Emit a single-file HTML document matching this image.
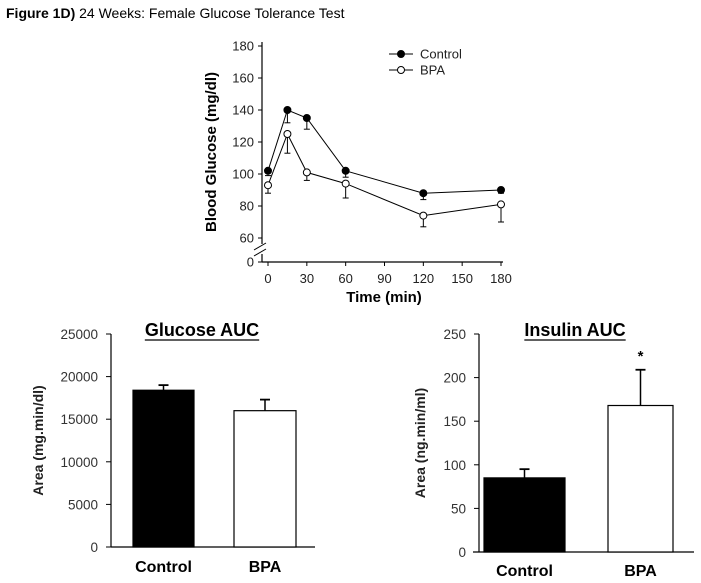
<!DOCTYPE html>
<html><head><meta charset="utf-8"><style>
body{margin:0;background:#fff;width:701px;height:583px;overflow:hidden;font-family:"Liberation Sans",Arial,sans-serif}
svg{position:absolute;left:0;top:0}
</style></head><body>
<svg id="s" width="701" height="583" viewBox="0 0 701 583" font-family="Liberation Sans, Arial, sans-serif">
<text x="6" y="18" font-size="14"><tspan font-weight="bold">Figure 1D)</tspan> 24 Weeks: Female Glucose Tolerance Test</text>
<g id="topChart"></g>
<g id="leftChart"></g>
<g id="rightChart"></g>
</svg>
<script>
const times=[0,15,30,60,120,180];
const controlVals=[102,140,135,102,88,90];
const controlLow=[99,132,128,98,84,88];
const bpaVals=[93,125,101,94,74,81];
const bpaLow=[88,113,96,85,67,70];
const yTicksTop=[60,80,100,120,140,160,180];
const xTicksTop=[0,30,60,90,120,150,180];
const aucGroups=["Control","BPA"];
const glucoseAUC=[18400,16000];
const glucoseErr=[600,1300];
const glucoseTicks=[0,5000,10000,15000,20000,25000];
const insulinAUC=[85,168];
const insulinErr=[10,41];
const insulinTicks=[0,50,100,150,200,250];

const NS="http://www.w3.org/2000/svg";
function el(p,t,a,txt){const e=document.createElementNS(NS,t);for(const k in a)e.setAttribute(k,a[k]);if(txt!=null)e.textContent=txt;p.appendChild(e);return e;}

// Top chart
const topG=document.getElementById('topChart');
const xT=t=>268+t*233/180;
const yT=v=>238-(v-60)*1.6;
const yAx=el(topG,'line',{x1:262,y1:42,x2:262,y2:262,stroke:'#000','stroke-width':1.2});

const xAx=el(topG,'line',{x1:262,y1:262,x2:503,y2:262,stroke:'#000','stroke-width':1.2});

el(topG,'rect',{x:255,y:244,width:14,height:10,fill:'#fff'});
el(topG,'line',{x1:254,y1:250,x2:266,y2:243,stroke:'#000'});
el(topG,'line',{x1:254,y1:256,x2:266,y2:249,stroke:'#000'});
yTicksTop.forEach(v=>{const y=yT(v);
 el(topG,'line',{x1:258,y1:y,x2:262,y2:y,stroke:'#000'});
 const t=el(topG,'text',{x:254,y:y+4.5,'font-size':13,'text-anchor':'end',fill:'#222'},v);
 
 });
el(topG,'line',{x1:258,y1:262,x2:262,y2:262,stroke:'#000'});
el(topG,'text',{x:254,y:266.5,'font-size':13,'text-anchor':'end',fill:'#222'},'0');
xTicksTop.forEach(v=>{const x=xT(v);
 el(topG,'line',{x1:x,y1:262,x2:x,y2:266,stroke:'#000'});
 const t=el(topG,'text',{x:x,y:283,'font-size':13,'text-anchor':'middle',fill:'#222'},v);
 
 });
const xt=el(topG,'text',{x:384,y:302,'font-size':15,'font-weight':'bold','text-anchor':'middle'},'Time (min)');


const yt=el(topG,'text',{x:0,y:0,'font-size':15,'font-weight':'bold','text-anchor':'middle',transform:'translate(216,152) rotate(-90)'},'Blood Glucose (mg/dl)');


function series(vals,low,fill,name){
 const g=el(topG,'g',{});
 
 
 vals.forEach((v,i)=>{const x=xT(times[i]);
  el(g,'line',{x1:x,y1:yT(v),x2:x,y2:yT(low[i]),stroke:'#000'});
  el(g,'line',{x1:x-3,y1:yT(low[i]),x2:x+3,y2:yT(low[i]),stroke:'#000'});});
 el(g,'polyline',{points:vals.map((v,i)=>xT(times[i])+','+yT(v)).join(' '),fill:'none',stroke:'#000'});
 vals.forEach((v,i)=>{const c=el(g,'circle',{cx:xT(times[i]),cy:yT(v),r:3.5,fill:fill,stroke:'#000'});
  
  });
}
series(controlVals,controlLow,'#000','control');
series(bpaVals,bpaLow,'#fff','bpa');
[['Control','#000',54],['BPA','#fff',70]].forEach(([n,f,y])=>{
 const g=el(topG,'g',{});
 
 
 el(g,'line',{x1:389,y1:y,x2:413,y2:y,stroke:'#000'});
 el(g,'circle',{cx:401,cy:y,r:3.5,fill:f,stroke:'#000'});
 el(g,'text',{x:420,y:y+4.5,'font-size':13,fill:'#222'},n);});

// Bar charts
function barChart(gid,x0,xs,x1,yb,ytop,max,ticks,vals,errs,bars,title,tx,ylab,ylx,star,lblY){
 const g=document.getElementById(gid);
 const y=v=>yb-v/max*(yb-ytop);
 const ya=el(g,'line',{x1:x0,y1:ytop,x2:x0,y2:yb,stroke:'#000','stroke-width':1.2});
 
 const xa=el(g,'line',{x1:xs,y1:yb,x2:x1,y2:yb,stroke:'#000','stroke-width':1.2});
 
 ticks.forEach(v=>{el(g,'line',{x1:x0-5,y1:y(v),x2:x0,y2:y(v),stroke:'#000'});
  const t=el(g,'text',{x:x0-13,y:y(v)+5,'font-size':13.5,'text-anchor':'end',fill:'#333'},v);
  
  });
 vals.forEach((v,i)=>{const a=bars[i][0],b=bars[i][1];const m=(a+b)/2;
  const ev=v+errs[i];
  el(g,'line',{x1:m,y1:y(v),x2:m,y2:y(ev),stroke:'#000','stroke-width':1.5});
  el(g,'line',{x1:m-5,y1:y(ev),x2:m+5,y2:y(ev),stroke:'#000','stroke-width':1.8});
  const r=el(g,'rect',{x:a,y:y(v),width:b-a,height:yb-y(v),fill:i==0?'#000':'#fff',stroke:'#000','stroke-width':1.2});
  
  
  const t=el(g,'text',{x:m,y:lblY,'font-size':16,'font-weight':'bold','text-anchor':'middle'},aucGroups[i]);
  
  
  if(star&&i==1){const s=el(g,'text',{x:m,y:y(ev)-9,'font-size':15,'font-weight':'bold','text-anchor':'middle'},'*');
   
   }
 });
 const tt=el(g,'text',{x:tx,y:336,'font-size':18,'font-weight':'bold','text-anchor':'middle'},title);
 
 
 let w=110;try{w=tt.getComputedTextLength();}catch(e){}
 el(g,'line',{x1:tx-w/2,y1:340,x2:tx+w/2,y2:340,stroke:'#000','stroke-width':1.3});
 const yl=el(g,'text',{x:0,y:0,'font-size':14,'font-weight':'bold','text-anchor':'middle',fill:'#222',transform:'translate('+ylx+','+((yb+ytop)/2)+') rotate(-90)'},ylab);
 
 
}
barChart('leftChart',111,111,315,547,334,25000,glucoseTicks,glucoseAUC,glucoseErr,[[133,194],[234,296]],'Glucose AUC',202,'Area (mg.min/dl)',43,false,572);
barChart('rightChart',479,473,694,552,334,250,insulinTicks,insulinAUC,insulinErr,[[484,565],[608,673]],'Insulin AUC',575,'Area (ng.min/ml)',425,true,576);
</script>
</body></html>
